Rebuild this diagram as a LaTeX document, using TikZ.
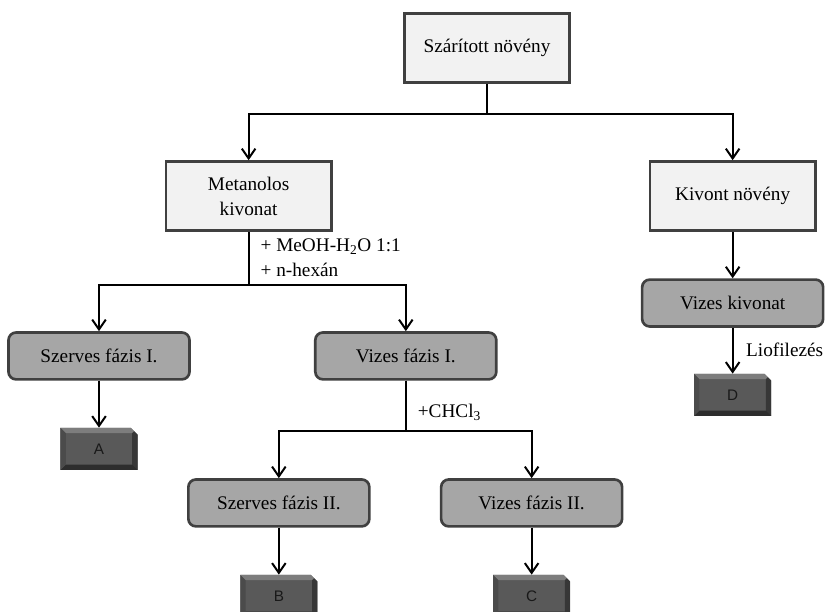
\documentclass[tikz,border=0pt]{standalone}
\usepackage{fontspec}
\setmainfont{Liberation Serif}
\newfontfamily\labelfont{Liberation Sans}
\usetikzlibrary{arrows.meta, positioning, shapes.misc}

\begin{document}
\begin{tikzpicture}[
    font=\fontsize{14.5}{18.75}\selectfont,
    >={Straight Barb[length=2.6mm,width=3.6mm]},
    node distance=2.2cm,
    on grid,
    plant/.style={
        draw=colorBorder,
        line width=2pt,
        fill=colorPlant,
        align=center,
        minimum width=4.37cm,
        minimum height=1.83cm
    },
    phase/.style={
        draw=colorBorder,
        line width=2pt,
        fill=colorPhase,
        rounded corners=0.2cm,
        align=center,
        minimum width=4.79cm,
        minimum height=1.24cm
    },
    result/.style={
        chamfered rectangle,
        chamfered rectangle corners=north east,
        chamfered rectangle xsep=2pt,
        fill=colorResult,
        text=black!90,
        font=\labelfont\fontsize{11.5}{13}\selectfont,
        minimum width=2.04cm,
        minimum height=1.11cm,
        path picture={
            \fill[colorBevelTop] (path picture bounding box.north west)
                -- (path picture bounding box.north east)
                -- ([xshift=-4pt,yshift=-4pt]path picture bounding box.north east)
                -- ([xshift=4pt,yshift=-4pt]path picture bounding box.north west) -- cycle;
            \fill[colorBevelSide] (path picture bounding box.north east)
                -- (path picture bounding box.south east)
                -- ([xshift=-4pt,yshift=4pt]path picture bounding box.south east)
                -- ([xshift=-4pt,yshift=-4pt]path picture bounding box.north east) -- cycle;
            \fill[colorBevelBottom] (path picture bounding box.south west)
                -- (path picture bounding box.south east)
                -- ([xshift=-4pt,yshift=4pt]path picture bounding box.south east)
                -- ([xshift=4pt,yshift=4pt]path picture bounding box.south west) -- cycle;
            \fill[colorBevelLeft] (path picture bounding box.north west)
                -- (path picture bounding box.south west)
                -- ([xshift=4pt,yshift=4pt]path picture bounding box.south west)
                -- ([xshift=4pt,yshift=-4pt]path picture bounding box.north west) -- cycle;
        }
    },
    flow/.style={->, line width=1.5pt},
    note/.style={align=left, inner sep=2pt}
]

%--- Define colors ---
\definecolor{colorBorder}{RGB}{64,64,64}        % Dark gray outline
\definecolor{colorPlant}{RGB}{242,242,242}      % Very light gray
\definecolor{colorPhase}{RGB}{166,166,166}      % Mid gray
\definecolor{colorResult}{RGB}{89,89,89}        % Dark gray face
\definecolor{colorBevelTop}{RGB}{125,125,125}
\definecolor{colorBevelSide}{RGB}{55,55,55}
\definecolor{colorBevelBottom}{RGB}{45,45,45}
\definecolor{colorBevelLeft}{RGB}{75,75,75}

\useasboundingbox (0,0) rectangle (21.94,-16.19);

%------------------------------------
% TOP: STARTING MATERIAL
%------------------------------------

\node[plant] (dried) at (12.89,-1.27) {Szárított növény};

% Two branches
\node[plant, below left=3.92cm and 6.31cm of dried] (methanol)
{Metanolos\\kivonat};

\node[plant, below right=3.92cm and 6.50cm of dried] (kivont)
{Kivont növény};

%------------------------------------
% LEFT: LIQUID-LIQUID PARTITION
%------------------------------------

\node[phase, below left=4.23cm and 3.96cm of methanol] (szerves1)
{Szerves fázis I.};

\node[phase, below right=4.23cm and 4.16cm of methanol] (vizes1)
{Vizes fázis I.};

\node[result, below=2.46cm of szerves1] (frA) {A};

\node[phase, below left=3.89cm and 3.36cm of vizes1] (szerves2)
{Szerves fázis II.};

\node[phase, below right=3.89cm and 3.33cm of vizes1] (vizes2)
{Vizes fázis II.};

\node[result, below=2.46cm of szerves2] (frB) {B};
\node[result, below=2.46cm of vizes2] (frC) {C};

%------------------------------------
% RIGHT: EXTRACTED PLANT
%------------------------------------

\node[phase, below=2.83cm of kivont] (vizeskiv)
{Vizes kivonat};

\node[result, below=2.43cm of vizeskiv] (frD) {D};

%------------------
% EDGES (ARROWS)
%------------------

\draw[flow] (dried.south) -- ++(0,-0.79) -| (methanol.north);
\draw[flow] (dried.south) -- ++(0,-0.79) -| (kivont.north);

\draw[flow] (methanol.south) -- ++(0,-1.40) -| (szerves1.north);
\draw[flow] (methanol.south) -- ++(0,-1.40) -| (vizes1.north);

\draw[flow] (szerves1.south) -- (frA.north);

\draw[flow] (vizes1.south) -- ++(0,-1.32) -| (szerves2.north);
\draw[flow] (vizes1.south) -- ++(0,-1.32) -| (vizes2.north);

\draw[flow] (szerves2.south) -- (frB.north);
\draw[flow] (vizes2.south) -- (frC.north);

\draw[flow] (kivont.south) -- (vizeskiv.north);
\draw[flow] (vizeskiv.south) -- (frD.north);

% Solvent labels
\node[note, anchor=north west] (solvent) at ([xshift=0.24cm,yshift=-0.1cm]methanol.south)
{+ MeOH-H\textsubscript{2}O 1:1\\+ n-hexán};

\node[note, anchor=west] (chloroform) at ([xshift=0.24cm,yshift=-0.85cm]vizes1.south)
{+CHCl\textsubscript{3}};

\node[note, anchor=west] (lyo) at ([xshift=0.28cm,yshift=-0.58cm]vizeskiv.south)
{Liofilezés};

\end{tikzpicture}
\end{document}
